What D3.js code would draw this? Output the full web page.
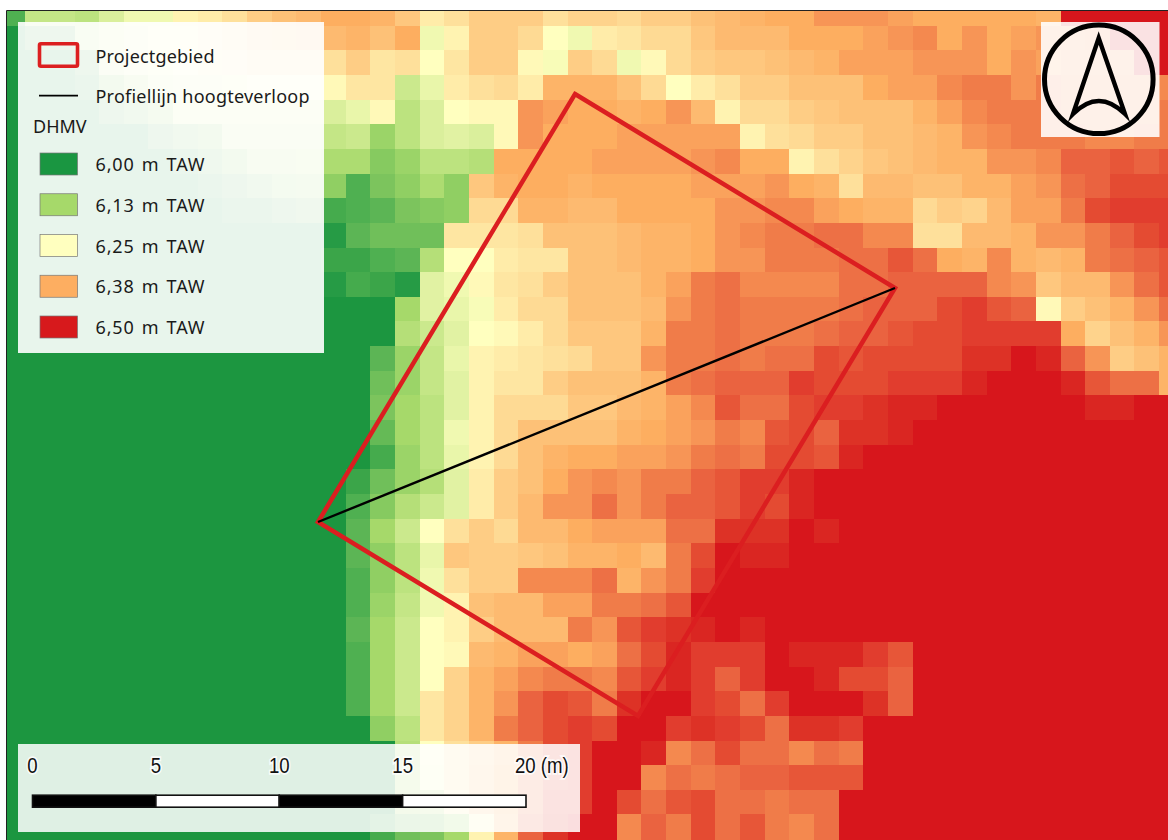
<!DOCTYPE html>
<html><head><meta charset="utf-8">
<script src="https://cdn.jsdelivr.net/npm/d3@7/dist/d3.min.js"></script>
<style>html,body{margin:0;padding:0;background:#fff}svg{display:block}</style>
</head><body><svg id="c" width="1168" height="840"></svg>
<script>
// Elevation above 6.00 m TAW, in cm, per raster row (48 columns)
const r00=[5,17,17,16,20,23,23,27,28,30,33,35,36,38,38,37,34,28,30,33,33,33,30,32,32,31,33,33,35,36,37,38,38,40,40,40,39,38,38,38,38,38,37,50,50,50,50,50];
const r01=[0,5,5,17,20,22,24,26,28,30,33,34,35,36,37,35,38,23,27,33,33,31,25,23,28,29,31,31,34,36,36,36,38,38,38,39,40,41,38,40,38,39,40,40,41,50,50,50];
const r02=[0,0,0,5,19,22,23,25,27,28,30,30,30,30,33,29,30,25,29,33,33,26,24,33,31,23,26,31,33,34,34,35,36,37,39,39,39,40,40,40,38,40,39,40,40,40,50,50];
const r03=[0,0,0,3,10,15,21,22,22,23,25,25,25,26,29,29,18,22,28,30,31,28,37,37,37,35,31,25,28,30,33,33,35,35,35,38,39,39,41,42,42,40,42,41,41,41,41,41];
const r04=[0,0,0,0,5,8,12,20,20,20,20,20,20,20,22,26,16,20,25,26,26,40,39,38,38,37,38,40,36,27,31,31,33,34,35,35,35,37,39,41,42,42,42,41,41,41,41,42];
const r05=[0,0,0,0,0,0,5,8,10,18,18,18,18,17,18,12,16,20,21,20,26,40,38,38,38,39,39,39,39,39,27,30,31,33,33,35,35,36,37,40,41,42,42,42,41,41,42,42];
const r06=[0,0,0,0,0,0,0,3,6,10,15,15,16,14,14,10,12,16,16,15,38,38,38,38,39,39,39,39,40,41,38,38,27,30,32,34,35,36,37,37,40,40,41,44,44,45,44,45];
const r07=[0,0,0,0,0,0,0,0,3,5,8,11,12,11,5,9,11,14,11,34,37,38,38,37,38,38,38,38,39,39,39,40,38,37,30,36,36,35,35,37,37,39,40,43,44,46,46,46];
const r08=[0,0,0,0,0,0,0,0,0,2,3,5,7,4,5,6,9,10,11,31,31,37,37,36,36,38,38,38,38,40,40,41,41,39,38,37,37,31,33,32,36,39,39,42,46,47,47,47];
const r09=[0,0,0,0,0,0,0,0,0,0,0,0,0,1,6,8,8,8,29,29,29,30,35,35,35,36,37,37,38,40,41,42,42,43,43,41,41,30,30,36,36,37,40,40,42,44,46,47];
const r10=[0,0,0,0,0,0,0,0,0,0,0,0,0,3,3,5,6,15,25,25,28,29,29,35,35,36,37,37,38,40,40,42,42,42,43,43,45,43,38,37,41,37,36,37,42,43,44,45];
const r11=[0,0,0,0,0,0,0,0,0,0,0,0,0,1,4,3,1,21,23,26,29,30,33,35,35,35,37,39,42,43,41,41,41,41,43,43,44,44,44,44,41,40,34,36,36,40,43,45];
const r12=[0,0,0,0,0,0,0,0,0,0,0,0,0,0,0,0,13,21,22,24,28,31,31,35,35,35,36,40,42,43,42,42,42,42,43,44,44,44,46,47,45,44,26,33,35,37,40,43];
const r13=[0,0,0,0,0,0,0,0,0,0,0,0,0,0,0,0,15,18,21,25,26,28,31,34,34,34,37,42,42,43,42,42,42,43,44,44,45,46,46,47,47,47,47,38,32,35,37,40];
const r14=[0,0,0,0,0,0,0,0,0,0,0,0,0,0,0,6,12,17,22,27,28,29,30,31,34,34,40,42,42,43,42,43,43,46,45,46,46,46,46,48,48,50,49,44,40,33,35,37];
const r15=[0,0,0,0,0,0,0,0,0,0,0,0,0,0,0,8,12,17,21,27,29,29,33,35,35,35,37,42,43,44,44,44,47,46,46,46,47,47,47,49,50,50,50,49,45,43,43,37];
const r16=[0,0,0,0,0,0,0,0,0,0,0,0,0,0,0,9,13,16,21,27,31,31,31,34,34,36,37,39,41,45,43,43,46,47,47,48,49,49,50,50,50,50,50,50,49,49,50,50];
const r17=[0,0,0,0,0,0,0,0,0,0,0,0,0,0,0,7,13,16,23,27,31,35,35,35,35,37,38,39,40,42,41,45,46,44,48,48,49,50,50,50,50,50,50,50,50,50,50,50];
const r18=[0,0,0,0,0,0,0,0,0,0,0,0,0,0,0,4,12,16,22,27,31,35,37,38,38,39,39,40,42,43,42,46,46,45,49,50,50,50,50,50,50,50,50,50,50,50,50,50];
const r19=[0,0,0,0,0,0,0,0,0,0,0,0,0,0,3,8,12,15,21,28,33,35,38,40,41,40,42,42,44,45,47,47,49,50,50,50,50,50,50,50,50,50,50,50,50,50,50,50];
const r20=[0,0,0,0,0,0,0,0,0,0,0,0,0,0,5,10,15,18,21,28,33,36,40,40,43,40,42,44,44,45,47,46,49,50,50,50,50,50,50,50,50,50,50,50,50,50,50,50];
const r21=[0,0,0,0,0,0,0,0,0,0,0,0,0,0,6,13,18,25,30,33,31,36,36,38,39,39,39,43,43,48,48,48,50,49,50,50,50,50,50,50,50,50,50,50,50,50,50,50];
const r22=[0,0,0,0,0,0,0,0,0,0,0,0,0,0,6,11,16,22,34,33,33,34,35,37,37,38,36,42,46,50,49,49,50,50,50,50,50,50,50,50,50,50,50,50,50,50,50,50];
const r23=[0,0,0,0,0,0,0,0,0,0,0,0,0,0,5,11,16,23,30,33,33,41,41,41,43,37,40,42,47,50,50,50,50,50,50,50,50,50,50,50,50,50,50,50,50,50,50,50];
const r24=[0,0,0,0,0,0,0,0,0,0,0,0,0,0,5,12,17,23,27,35,36,36,39,39,42,42,43,45,50,50,50,50,50,50,50,50,50,50,50,50,50,50,50,50,50,50,50,50];
const r25=[0,0,0,0,0,0,0,0,0,0,0,0,0,0,6,13,18,25,27,33,36,36,36,42,40,45,47,48,49,50,49,50,50,50,50,50,50,50,50,50,50,50,50,50,50,50,50,50];
const r26=[0,0,0,0,0,0,0,0,0,0,0,0,0,0,5,13,18,25,26,36,37,39,39,38,39,43,46,49,47,47,47,50,49,49,49,47,45,50,50,50,50,50,50,50,50,50,50,50];
const r27=[0,0,0,0,0,0,0,0,0,0,0,0,0,0,5,13,18,25,32,37,39,41,42,42,41,45,47,49,47,44,47,50,50,49,46,46,44,50,50,50,50,50,50,50,50,50,50,50];
const r28=[0,0,0,0,0,0,0,0,0,0,0,0,0,0,5,13,18,29,32,37,40,44,46,45,42,48,50,50,47,46,43,47,50,50,50,48,44,50,50,50,50,50,50,50,50,50,50,50];
const r29=[0,0,0,0,0,0,0,0,0,0,0,0,0,0,0,11,16,29,32,37,42,44,46,47,46,50,50,47,48,47,46,43,48,48,47,50,50,50,50,50,50,50,50,50,50,50,50,50];
const r30=[0,0,0,0,0,0,0,0,0,0,0,0,0,0,0,0,15,25,30,33,37,42,46,47,50,50,49,41,43,46,43,43,41,43,42,50,50,50,50,50,50,50,50,50,50,50,50,50];
const r31=[0,0,0,0,0,0,0,0,0,0,0,0,0,0,0,0,15,24,30,34,38,42,46,47,50,50,41,43,42,43,44,44,45,45,45,50,50,50,50,50,50,50,50,50,50,50,50,50];
const r32=[0,0,0,0,0,0,0,0,0,0,0,0,0,0,0,0,14,16,28,34,38,42,47,47,50,46,43,45,46,43,43,42,43,43,50,50,50,50,50,50,50,50,50,50,50,50,50,50];
const r33=[0,0,0,0,0,0,0,0,0,0,0,0,0,0,0,4,8,9,13,27,37,44,48,50,50,41,44,42,46,43,45,42,41,43,50,50,50,50,50,50,50,50,50,50,50,50,50,50];
const elevationRows=[r00,r01,r02,r03,r04,r05,r06,r07,r08,r09,r10,r11,r12,r13,r14,r15,r16,r17,r18,r19,r20,r21,r22,r23,r24,r25,r26,r27,r28,r29,r30,r31,r32,r33];

const legendStops=[0,13,25,38,50];
const legendColors=["#1a9641","#a6d96a","#ffffbf","#fdae61","#d7191c"];
const legendLabels=["6,00 m TAW","6,13 m TAW","6,25 m TAW","6,38 m TAW","6,50 m TAW"];
const scaleTicks=[0,5,10,15,20];
const projectArea=[[575,94],[895,288],[638,716],[318,522]];
const profileLine=[[318,522],[895,288]];

const svg=d3.select("#c");
const color=d3.scaleLinear().domain(legendStops).range(legendColors).interpolate(d3.interpolateRgb).clamp(true);
const x=d3.scaleLinear().domain([0,48]).range([0.6,0.6+48*24.65]);
const y=d3.scaleLinear().domain([0,34]).range([1.05,1.05+34*24.65]);

const defs=svg.append("defs");
defs.append("clipPath").attr("id","mapclip").append("rect")
  .attr("x",7).attr("y",11).attr("width",1161).attr("height",829);
defs.append("filter").attr("id","soft").attr("filterUnits","userSpaceOnUse")
  .attr("x",0).attr("y",0).attr("width",1200).attr("height",860)
  .append("feGaussianBlur").attr("stdDeviation",0.5);

const map=svg.append("g").attr("clip-path","url(#mapclip)");
const cells=map.append("g").attr("filter","url(#soft)").attr("shape-rendering","crispEdges");
cells.selectAll("g.row").data(elevationRows).join("g").attr("class","row")
  .each(function(row,ri){
    d3.select(this).selectAll("rect").data(row).join("rect")
      .attr("x",(d,i)=>Math.round(x(i))).attr("y",Math.round(y(ri)))
      .attr("width",(d,i)=>Math.round(x(i+1))-Math.round(x(i)))
      .attr("height",Math.round(y(ri+1))-Math.round(y(ri))+(ri===33?6:0))
      .attr("fill",d=>color(d));
  });

const line=d3.line();
map.append("path").attr("d",line(projectArea)+"Z").attr("fill","none")
  .attr("stroke","#db1e20").attr("stroke-width",4.5).attr("stroke-linejoin","miter");
map.append("path").attr("d",line(profileLine)).attr("fill","none")
  .attr("stroke","#000").attr("stroke-width",2.4);

// frame
svg.append("path").attr("d","M6.5,840V10.5H1168").attr("fill","none").attr("stroke","#222").attr("stroke-width",1);

// legend
const lg=svg.append("g");
lg.append("rect").attr("x",18).attr("y",22).attr("width",306).attr("height",331).attr("fill","#fff").attr("fill-opacity",0.9);
const txt=(g,s,tx,ty,ls,ws)=>g.append("text").attr("x",tx).attr("y",ty).text(s)
  .attr("font-family","'Noto Sans',sans-serif").attr("font-size",18).attr("fill","#1a1a1a")
  .attr("letter-spacing",ls||0).attr("word-spacing",ws||0);
lg.append("rect").attr("x",39.5).attr("y",43.8).attr("width",38).attr("height",22.4).attr("rx",1.5)
  .attr("fill","none").attr("stroke","#dc1f20").attr("stroke-width",3.6);
txt(lg,"Projectgebied",95.5,62.5,0.17);
lg.append("line").attr("x1",39).attr("x2",78).attr("y1",95.7).attr("y2",95.7).attr("stroke","#000").attr("stroke-width",1.8);
txt(lg,"Profiellijn hoogteverloop",95.5,102.5,0.22);
txt(lg,"DHMV",33,133);
const swY=d3.scalePoint().domain(legendLabels).range([152.7,315.7]);
legendLabels.forEach((l,i)=>{
  lg.append("rect").attr("x",40).attr("y",swY(l)+0.3).attr("width",37.5).attr("height",22)
    .attr("fill",legendColors[i]).attr("stroke","#777").attr("stroke-width",0.7);
  txt(lg,l,95.5,swY(l)+18.3,0.85,1.6);
});

// scale bar
const sb=svg.append("g");
sb.append("rect").attr("x",18).attr("y",744).attr("width",562).attr("height",88).attr("fill","#fff").attr("fill-opacity",0.86);
const sx=d3.scaleLinear().domain([0,20]).range([32.5,526]);
scaleTicks.slice(0,-1).forEach((t,i)=>{
  sb.append("rect").attr("x",sx(t)).attr("y",795.2).attr("width",sx(scaleTicks[i+1])-sx(t)).attr("height",12)
    .attr("fill",i%2?"#fff":"#000").attr("stroke","#111").attr("stroke-width",1.6);
});
scaleTicks.forEach((t,i)=>{
  const tx=i===4?sx(t)-11:sx(t);
  sb.append("text").attr("transform",`translate(${tx},772.5) scale(0.98,1.12)`)
    .attr("text-anchor",i===4?"start":"middle")
    .text(i===4?t+" (m)":t)
    .attr("font-family","'Liberation Sans',sans-serif").attr("font-size",19).attr("fill","#111")
    .attr("stroke","#fff").attr("stroke-width",3).attr("stroke-opacity",0.8).attr("paint-order","stroke");
});

// north arrow
const na=svg.append("g");
na.append("rect").attr("x",1041).attr("y",22).attr("width",118.5).attr("height",115).attr("fill","#fff").attr("fill-opacity",0.88);
na.append("circle").attr("cx",1098.8).attr("cy",79.3).attr("r",54.3).attr("fill","none").attr("stroke","#000").attr("stroke-width",5);
na.append("path").attr("d","M1098.7,38L1073,114Q1098.7,88 1125,114Z").attr("fill","none")
  .attr("stroke","#000").attr("stroke-width",4.4).attr("stroke-miterlimit",12);
</script></body></html>
